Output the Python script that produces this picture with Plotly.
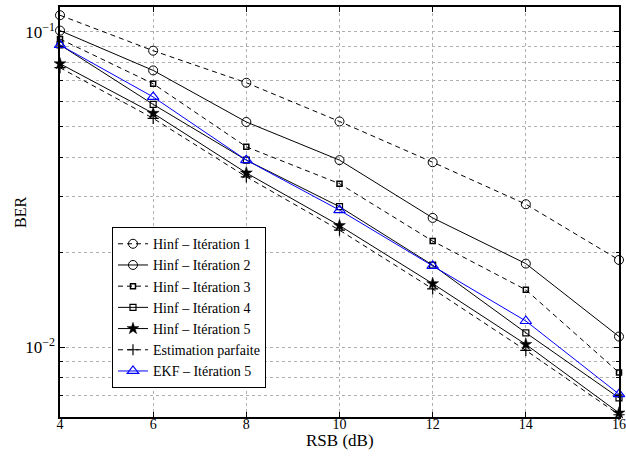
import numpy as np
import plotly.graph_objects as go

snr = [4, 6, 8, 10, 12, 14, 16]
hinf1 = [0.113, 0.0872, 0.069, 0.052, 0.0386, 0.0284, 0.0189]
hinf2 = [0.101, 0.0755, 0.0518, 0.0392, 0.0257, 0.0184, 0.0108]
hinf3 = [0.095, 0.0685, 0.0432, 0.033, 0.0217, 0.0152, 0.0083]
hinf4 = [0.091, 0.0589, 0.0392, 0.0279, 0.0182, 0.0111, 0.0069]
hinf5 = [0.0793, 0.0552, 0.0357, 0.0243, 0.0159, 0.0102, 0.00618]
parfaite = [0.077, 0.0532, 0.0347, 0.0235, 0.0153, 0.00976, 0.0061]
ekf5 = [0.0909, 0.0622, 0.0392, 0.0272, 0.0181, 0.0121, 0.00709]

names = ["Hinf – Itération 1", "Hinf – Itération 2", "Hinf – Itération 3",
         "Hinf – Itération 4", "Hinf – Itération 5", "Estimation parfaite",
         "EKF – Itération 5"]

x_ticks = [4, 6, 8, 10, 12, 14, 16]
y_major = [0.01, 0.1]
y_major_text = ["10<sup>−2</sup>", "10<sup>−1</sup>"]
y_minor = [0.006, 0.007, 0.008, 0.009, 0.02, 0.03, 0.04, 0.05, 0.06, 0.07, 0.08, 0.09]

DASH = "5px,4px"
styles = [
    (hinf1, DASH, "black", dict(symbol="circle-open", size=9, line=dict(width=1, color="black"))),
    (hinf2, "solid", "black", dict(symbol="circle-open", size=9, line=dict(width=1, color="black"))),
    (hinf3, DASH, "black", dict(symbol="square-open", size=5, line=dict(width=1.5, color="black"))),
    (hinf4, "solid", "black", dict(symbol="square-open", size=6, line=dict(width=1.2, color="black"))),
    (hinf5, "solid", "black", dict(symbol="star", size=9, color="black", line=dict(width=0.5, color="black"))),
    (parfaite, DASH, "black", dict(symbol="cross-thin-open", size=8, line=dict(width=1.2, color="black"))),
    (ekf5, "solid", "blue", dict(symbol="triangle-up-open", size=10, line=dict(width=1.2, color="blue"))),
]

fig = go.Figure()
for (vals, dash, col, mk), nm in zip(styles, names):
    fig.add_trace(go.Scatter(
        x=snr, y=vals, name=nm, mode="lines+markers",
        line=dict(color=col, width=1, dash=dash),
        marker=mk, cliponaxis=False,
    ))

font_fam = "Liberation Serif, Times New Roman, serif"
fig.update_layout(
    width=626, height=457,
    margin=dict(l=60, r=7, t=7, b=40, autoexpand=False),
    paper_bgcolor="white", plot_bgcolor="white",
    font=dict(family=font_fam, size=14, color="black"),
    showlegend=True,
    legend=dict(
        x=0.093, y=0.463, xanchor="left", yanchor="top",
        bgcolor="white", bordercolor="black", borderwidth=1,
        font=dict(family=font_fam, size=14, color="black"),
        itemwidth=30, tracegroupgap=0,
    ),
    xaxis=dict(
        range=[4, 16], tickvals=x_ticks, ticktext=[str(v) for v in x_ticks],
        showline=True, linecolor="black", linewidth=1.5, mirror="ticks",
        ticks="inside", ticklen=5, tickcolor="black",
        showgrid=True, gridcolor="#b0b0b0", griddash="dot", gridwidth=1,
        zeroline=False, automargin=False,
        tickfont=dict(size=14), ticklabelstandoff=-7,
    ),
    yaxis=dict(
        type="log", range=[np.log10(0.006), np.log10(0.12)],
        tickvals=y_major, ticktext=y_major_text,
        showline=True, linecolor="black", linewidth=1.5, mirror="ticks",
        ticks="inside", ticklen=5, tickcolor="black",
        showgrid=True, gridcolor="#b0b0b0", griddash="dot", gridwidth=1,
        minor=dict(tickvals=y_minor, ticks="inside", ticklen=3, tickcolor="black",
                   showgrid=True, gridcolor="#b0b0b0", griddash="dot", gridwidth=1),
        zeroline=False, automargin=False,
        tickfont=dict(size=17),
    ),
    annotations=[
        dict(text="RSB (dB)", xref="paper", yref="paper", x=0.5, y=-0.057,
             xanchor="center", yanchor="middle", showarrow=False,
             font=dict(size=17, family=font_fam, color="black")),
        dict(text="BER", xref="paper", yref="paper", x=-0.0716, y=0.5,
             xanchor="center", yanchor="middle", showarrow=False, textangle=-90,
             font=dict(size=16, family=font_fam, color="black")),
    ],
)

fig.write_html("out.html", config={"displayModeBar": False},
               post_script="document.body.style.margin='0';document.body.style.overflow='hidden';")
